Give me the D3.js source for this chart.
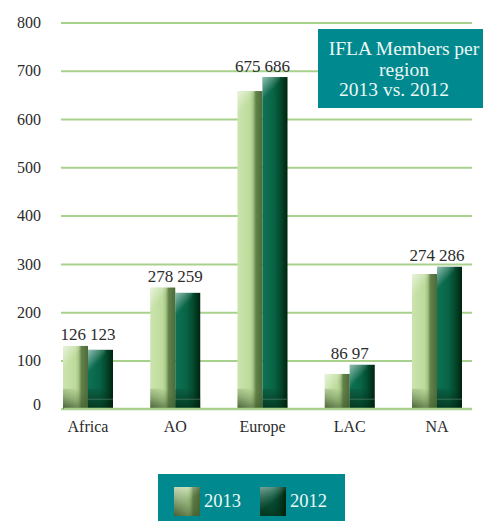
<!DOCTYPE html>
<html>
<head>
<meta charset="utf-8">
<script src="https://cdn.jsdelivr.net/npm/d3@7"></script>
<style>
  body { margin: 0; background: #fff; }
  svg text { font-family: "Liberation Serif", "DejaVu Serif", serif !important; }
</style>
</head>
<body>
<svg id="chart"></svg>
<script>
// regions on the x axis
const regions = ['Africa', 'AO', 'Europe', 'LAC', 'NA'];
const years = ['2013', '2012'];

// numbers printed above the bars
const labels2013 = [126, 278, 675, 86, 274];
const labels2012 = [123, 259, 686, 97, 286];

// bar heights as drawn in the source (they don't quite match the printed numbers)
const bars2013 = [130, 251, 658, 72, 279];
const bars2012 = [122, 240, 687, 91, 294];

const yTicks = [0, 100, 200, 300, 400, 500, 600, 700, 800];
const titleLines = ['IFLA Members per', 'region', '2013 vs. 2012'];

const width = 483, height = 521;
const svg = d3.select('#chart').attr('width', width).attr('height', height);

const teal = '#008a8f';
const gridColor = '#a9d18e';
const textColor = '#2b2b2b';
const serif = '"Liberation Serif", "DejaVu Serif", serif';

// gradients
const defs = svg.append('defs');

function linGrad(id, stops, x2 = '100%', y2 = '0%', x1 = '0%', y1 = '0%') {
  const g = defs.append('linearGradient').attr('id', id)
    .attr('x1', x1).attr('y1', y1).attr('x2', x2).attr('y2', y2);
  stops.forEach(s => g.append('stop').attr('offset', s[0]).attr('stop-color', s[1]).attr('stop-opacity', s[2] == null ? 1 : s[2]));
}

linGrad('g2013', [['0%', '#cbe4ad'], ['50%', '#bddb9b'], ['62%', '#a6c586'], ['74%', '#62824a'], ['100%', '#4d6a38']]);
linGrad('g2012', [['0%', '#0e7254'], ['45%', '#096446'], ['70%', '#044c30'], ['100%', '#00230e']]);
linGrad('hl', [['0%', '#ffffff', 0.55], ['60%', '#ffffff', 0]], '70%', '100%');
linGrad('base2013', [['0%', '#2f4720', 0.85], ['55%', '#3b5a2a', 0.35], ['100%', '#3b5a2a', 0]], '60%', '0%', '0%', '100%');
linGrad('base2012', [['0%', '#001a08', 0.7], ['100%', '#001a08', 0]], '60%', '0%', '0%', '100%');

// scales
const y = d3.scaleLinear().domain([0, 800]).range([408.7, 22.5]);
const x = d3.scalePoint().domain(regions).range([88, 437]);
const xInner = d3.scaleBand().domain(years).range([-25, 25]);

// y axis with gridlines
const plotLeft = 61, plotRight = 472;
const yAxisG = svg.append('g')
  .attr('transform', `translate(${plotLeft},0)`)
  .call(d3.axisLeft(y).tickValues(yTicks).tickSize(-(plotRight - plotLeft)).tickPadding(20));
yAxisG.attr('font-family', serif);
yAxisG.select('.domain').remove();
yAxisG.selectAll('line').attr('stroke', gridColor).attr('stroke-width', 2);
yAxisG.selectAll('text')
  .attr('fill', textColor)
  .attr('font-size', '16px');
yAxisG.selectAll('.tick').filter(d => d === 0).select('text').attr('dy', '0.05em');

// bars
const rows = regions.map((r, i) => ({
  region: r,
  bars: [
    { year: '2013', h: bars2013[i], label: labels2013[i] },
    { year: '2012', h: bars2012[i], label: labels2012[i] }
  ]
}));

const groups = svg.append('g').selectAll('g.group')
  .data(rows)
  .join('g')
  .attr('class', 'group')
  .attr('transform', d => `translate(${x(d.region)},0)`);

const bw = xInner.bandwidth();
const bar = groups.selectAll('g.bar')
  .data(d => d.bars)
  .join('g')
  .attr('class', 'bar')
  .attr('transform', d => `translate(${xInner(d.year)},${y(d.h)})`);

bar.append('rect')
  .attr('width', bw)
  .attr('height', d => y(0) - y(d.h))
  .attr('fill', d => `url(#g${d.year})`);

// soft highlight at the top left
bar.append('rect')
  .attr('width', bw * 0.7)
  .attr('height', d => Math.min(26, y(0) - y(d.h)))
  .attr('fill', 'url(#hl)');

// shaded foot of each bar
bar.append('rect')
  .attr('y', d => y(0) - y(d.h) - 20)
  .attr('width', bw)
  .attr('height', 20)
  .attr('fill', d => `url(#base${d.year})`);

bar.filter(d => d.year === '2012').append('line')
  .attr('x1', 0).attr('x2', bw)
  .attr('y1', d => y(0) - y(d.h) - 9.5)
  .attr('y2', d => y(0) - y(d.h) - 9.5)
  .attr('stroke', '#5f8a72')
  .attr('stroke-opacity', 0.6)
  .attr('stroke-width', 1);

// baseline
svg.append('line')
  .attr('x1', 64).attr('x2', plotRight)
  .attr('y1', y(0)).attr('y2', y(0))
  .attr('stroke', gridColor).attr('stroke-width', 2);

// value labels: pair sits just above the taller bar, split around the group centre
groups.selectAll('text.value')
  .data(d => d.bars.map(b => ({ ...b, top: y(d3.max(d.bars, e => e.h)) })))
  .join('text')
  .attr('class', 'value')
  .attr('x', d => d.year === '2013' ? -2 : 2)
  .attr('y', d => d.top - 5.5)
  .attr('text-anchor', d => d.year === '2013' ? 'end' : 'start')
  .attr('font-size', '17px')
  .attr('font-family', serif)
  .attr('fill', textColor)
  .text(d => d.label);

// category labels
svg.append('g').selectAll('text')
  .data(regions)
  .join('text')
  .attr('x', d => x(d))
  .attr('y', 431.5)
  .attr('text-anchor', 'middle')
  .attr('font-size', '16px')
  .attr('font-family', serif)
  .attr('fill', textColor)
  .text(d => d);

// title box
svg.append('rect')
  .attr('x', 318).attr('y', 29)
  .attr('width', 170).attr('height', 79)
  .attr('fill', teal);

svg.append('g').selectAll('text')
  .data(titleLines)
  .join('text')
  .attr('x', (d, i) => i === 2 ? 394 : 404)
  .attr('y', (d, i) => 55 + i * 20.5)
  .attr('text-anchor', 'middle')
  .attr('font-size', '19.5px')
  .attr('font-family', serif)
  .attr('fill', '#eef7f5')
  .text(d => d);

// legend
const legend = svg.append('g');
legend.append('rect')
  .attr('x', 158).attr('y', 474)
  .attr('width', 187).attr('height', 47)
  .attr('fill', teal);

const legendItems = legend.selectAll('g')
  .data(years)
  .join('g')
  .attr('transform', (d, i) => `translate(${174 + i * 86},487)`);

legendItems.append('rect')
  .attr('width', 26).attr('height', 29)
  .attr('fill', d => `url(#g${d})`);
legendItems.append('rect')
  .attr('width', 26).attr('height', 29)
  .attr('fill', 'url(#hl)');
legendItems.append('rect')
  .attr('width', 26).attr('height', 29)
  .attr('fill', d => `url(#base${d})`);

legendItems.append('text')
  .attr('x', 30)
  .attr('y', 20)
  .attr('font-size', '18.5px')
  .attr('font-family', serif)
  .attr('fill', '#eef7f5')
  .text(d => d);
</script>
</body>
</html>
